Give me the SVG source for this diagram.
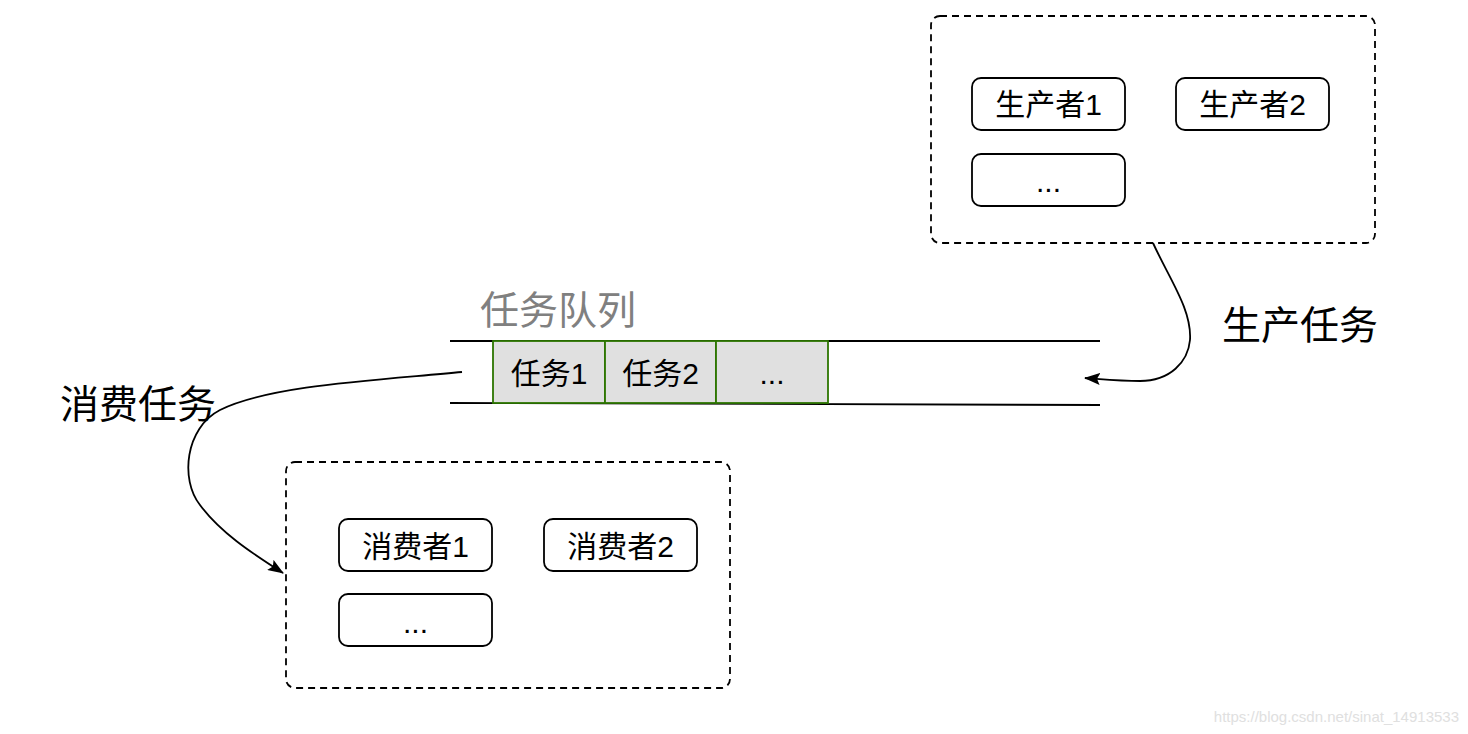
<svg xmlns="http://www.w3.org/2000/svg" width="1468" height="734" viewBox="0 0 1468 734">
<style>
.grp{fill:none;stroke:#000;stroke-width:1.8;stroke-dasharray:7 5}
.nd{fill:#fff;stroke:#000;stroke-width:1.8}
.cell{fill:#e0e0e0;stroke:#2d7600;stroke-width:1.8}
.t{font-family:"Liberation Sans","Noto Sans CJK SC",sans-serif;font-size:30px;fill:#000;text-anchor:middle}
.big{font-family:"Liberation Sans","Noto Sans CJK SC",sans-serif;font-size:39px;fill:#000}
.ln{fill:none;stroke:#000;stroke-width:1.8}
</style>
<defs>
<marker id="ah2" viewBox="0 0 16 12" refX="15" refY="6" markerWidth="16" markerHeight="12" markerUnits="userSpaceOnUse" orient="auto">
<path d="M0,0 L16,6 L0,12 L3,6 Z" fill="#000"/>
</marker>
</defs>
<rect width="1468" height="734" fill="#fff"/>
<g id="producers">
<rect class="grp" x="931" y="16" width="444" height="227" rx="9"/>
<g id="producer1"><rect class="nd" x="972" y="78" width="153" height="52" rx="9"/><text class="t" x="1048.5" y="115">生产者1</text></g>
<g id="producer2"><rect class="nd" x="1176" y="78" width="153" height="52" rx="9"/><text class="t" x="1252.5" y="115">生产者2</text></g>
<g id="producer3"><rect class="nd" x="972" y="154" width="153" height="52" rx="9"/><text class="t" x="1048.5" y="192">...</text></g>
</g>
<g id="queue">
<text x="480" y="324" font-family="Liberation Sans,'Noto Sans CJK SC',sans-serif" font-size="39" fill="#808080">任务队列</text>
<line class="ln" x1="450" y1="341" x2="1100" y2="341"/>
<line class="ln" x1="450" y1="403" x2="1100" y2="405"/>
<g id="task1"><rect class="cell" x="493" y="341" width="112" height="62"/><text class="t" x="549" y="384">任务1</text></g>
<g id="task2"><rect class="cell" x="605" y="341" width="111" height="62"/><text class="t" x="660.5" y="384">任务2</text></g>
<g id="task3"><rect class="cell" x="716" y="341" width="112" height="62"/><text class="t" x="772" y="384">...</text></g>
</g>
<g id="consumers">
<rect class="grp" x="286" y="462" width="444" height="226" rx="9"/>
<g id="consumer1"><rect class="nd" x="339" y="519" width="153" height="52" rx="9"/><text class="t" x="415.5" y="557">消费者1</text></g>
<g id="consumer2"><rect class="nd" x="544" y="519" width="153" height="52" rx="9"/><text class="t" x="620.5" y="557">消费者2</text></g>
<g id="consumer3"><rect class="nd" x="339" y="594" width="153" height="52" rx="9"/><text class="t" x="415.5" y="633">...</text></g>
</g>
<g id="connectors">
<path class="ln" d="M1153,243 C1170,280 1192,310 1190,340 C1188,362 1170,381 1140,381 C1120,381 1100,379 1085,378" marker-end="url(#ah2)"/>
<path class="ln" d="M462,372 C380,380 270,385 220,410 C185,428 180,480 200,505 C220,532 250,552 283,573" marker-end="url(#ah2)"/>
<text class="big" x="1222" y="339">生产任务</text>
<text class="big" x="60" y="418">消费任务</text>
</g>
<text x="1459" y="722" text-anchor="end" font-family="Liberation Sans,sans-serif" font-size="15" fill="#e0e0e0">https://blog.csdn.net/sinat_14913533</text>
</svg>
